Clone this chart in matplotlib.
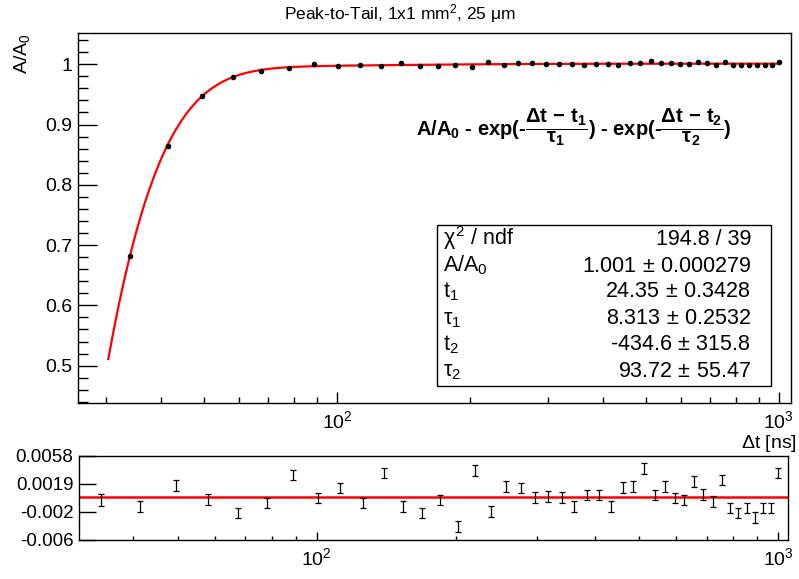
import matplotlib
matplotlib.use('Agg')
import matplotlib.pyplot as plt
import numpy as np
from matplotlib.ticker import (LogLocator, MultipleLocator, FuncFormatter,
                               LogFormatterMathtext, NullFormatter, FixedLocator)
from matplotlib.patches import Rectangle

plt.rcParams['font.family'] = ['Liberation Sans', 'DejaVu Sans']
plt.rcParams['mathtext.fontset'] = 'custom'
plt.rcParams['mathtext.rm'] = 'Liberation Sans'
plt.rcParams['mathtext.it'] = 'Liberation Sans'
plt.rcParams['mathtext.bf'] = 'Liberation Sans:bold'

# data
dt = [34.0, 41.4, 49.4, 58.1, 67.5, 77.8, 88.9, 100.6, 112.5, 126.0, 139.7,
      153.9, 169.4, 185.3, 202.6, 220.2, 238.2, 257.2, 276.7, 297.3, 317.7,
      339.7, 361.6, 385.7, 409.5, 433.5, 460.4, 485.3, 512.6, 540.8, 568.7,
      597.9, 626.6, 657.7, 689.0, 721.7, 754.7, 787.0, 820.5, 855.5, 891.6,
      929.5, 964.3, 1002.0]
ratio = [0.6823, 0.8649, 0.9479, 0.9782, 0.9885, 0.9944, 0.9999, 0.9975,
         0.9994, 0.9977, 1.0022, 0.9978, 0.9972, 0.9993, 0.9958, 1.0038,
         0.9982, 1.0019, 1.0017, 1.0006, 1.0008, 1.0007, 0.9995, 1.0012,
         1.0012, 0.9996, 1.0023, 1.0024, 1.0049, 1.0013, 1.0025, 1.0009,
         1.0006, 1.0032, 1.0014, 0.9994, 1.0034, 0.9995, 0.9988, 0.9995,
         0.9982, 0.9995, 0.9995, 1.0044]
resid = [-0.0004, -0.0013, 0.0017, -0.0003, -0.0022, -0.0008, 0.0031,
         -0.0001, 0.0013, -0.0008, 0.0034, -0.0013, -0.0022, -0.0004,
         -0.0041, 0.0037, -0.0020, 0.0015, 0.0013, 0.0000, 0.0001, 0.0000,
         -0.0013, 0.0003, 0.0003, -0.0013, 0.0014, 0.0015, 0.0040, 0.0003,
         0.0015, -0.0001, -0.0004, 0.0022, 0.0004, -0.0006, 0.0024, -0.0015,
         -0.0022, -0.0015, -0.0028, -0.0015, -0.0015, 0.0034]
resid_err = [0.00086, 0.00080, 0.00076, 0.00075, 0.00075, 0.00074, 0.00074,
             0.00074, 0.00074, 0.00074, 0.00074, 0.00074, 0.00074, 0.00074,
             0.00074, 0.00074, 0.00074, 0.00074, 0.00074, 0.00074, 0.00074,
             0.00074, 0.00074, 0.00074, 0.00074, 0.00074, 0.00074, 0.00074,
             0.00074, 0.00074, 0.00074, 0.00074, 0.00074, 0.00074, 0.00074,
             0.00074, 0.00074, 0.00074, 0.00074, 0.00074, 0.00074, 0.00074,
             0.00074, 0.00074]

# fit parameters as printed in the stats box
A0, t1, tau1, t2, tau2 = 1.001, 24.35, 8.313, -434.6, 93.72
fit_lo, fit_hi = 30.4, 1000.0

stat_names = [r'$\chi^{2}$ / ndf', r'A/A$_{0}$', r't$_{1}$', r'$\tau_{1}$',
              r't$_{2}$', r'$\tau_{2}$']
stat_vals = [r'194.8 / 39', r'1.001$\,\pm\,$0.000279', r'24.35$\,\pm\,$0.3428',
             r'8.313$\,\pm\,$0.2532', r'-434.6$\,\pm\,$315.8',
             r'93.72$\,\pm\,$55.47']

W, H = 799, 579


def fx(x):
    return x / W


def fy(y):
    return 1 - y / H


fig = plt.figure(figsize=(W / 100, H / 100), dpi=100)

# ---- top pad
ax = fig.add_axes([fx(78.3), fy(403), fx(791) - fx(78.3), fy(33.3) - fy(403)])
xf = np.logspace(np.log10(fit_lo), np.log10(fit_hi), 400)
yf = A0 - np.exp(-(xf - t1) / tau1) - np.exp(-(xf - t2) / tau2)
ax.plot(xf, yf, color='red', lw=1.6)
ax.plot(dt, ratio, 'o', color='black', ms=3.0, zorder=3)
ax.set_xscale('log')
ax.set_xlim(26.0, 1065)
ax.set_ylim(0.438, 1.0514)
ax.yaxis.set_major_locator(MultipleLocator(0.1))
ax.yaxis.set_minor_locator(MultipleLocator(0.02))
ax.yaxis.set_major_formatter(FuncFormatter(lambda v, p: '%g' % round(v, 3)))
ax.xaxis.set_major_locator(LogLocator(base=10))
ax.xaxis.set_minor_locator(LogLocator(base=10, subs=np.arange(2, 10)))
ax.xaxis.set_major_formatter(LogFormatterMathtext())
ax.xaxis.set_minor_formatter(NullFormatter())
ax.tick_params(axis='y', which='major', direction='in', length=14, width=1,
               labelsize=14, pad=4)
ax.tick_params(axis='y', which='minor', direction='in', length=7, width=1)
ax.tick_params(axis='x', which='major', direction='in', length=8, width=1,
               labelsize=14, pad=5)
ax.tick_params(axis='x', which='minor', direction='in', length=4, width=1)
for s in ax.spines.values():
    s.set_linewidth(1)

fig.text(0.5, fy(14), r'Peak-to-Tail, 1x1 mm$^{2}$, 25 $\mu$m', ha='center',
         va='center', fontsize=12.5)
fig.text(fx(22), fy(33), r'A/A$_{0}$', rotation=90, ha='center', va='top',
         fontsize=14)
fig.text(fx(797), fy(444), r'$\Delta$t [ns]', ha='right', va='center',
         fontsize=14)

# fit function label
fig.text(fx(574), fy(127),
         r'A/A$_{\mathbf{0}}$ - exp(-$\mathbf{\dfrac{\Delta t\,-\,t_{1}}{\tau_{1}}}$)'
         r' - exp(-$\mathbf{\dfrac{\Delta t\,-\,t_{2}}{\tau_{2}}}$)',
         ha='center', va='center', fontsize=14.5, fontweight='bold')

# stats box
fig.patches.append(Rectangle((fx(437), fy(386)), fx(771) - fx(437),
                             fy(225) - fy(386), transform=fig.transFigure,
                             fill=True, facecolor='white', edgecolor='black',
                             lw=1, zorder=5))
base = [245, 271.7, 297.3, 324, 350, 376.7]
for name, val, b in zip(stat_names, stat_vals, base):
    fig.text(fx(443), fy(b), name, ha='left', va='baseline', fontsize=15.5,
             zorder=6)
    fig.text(fx(751), fy(b), val, ha='right', va='baseline', fontsize=15.5,
             zorder=6)

# ---- bottom pad (residuals)
rx = fig.add_axes([fx(79), fy(540), fx(788) - fx(79), fy(455.7) - fy(540)])
rx.axhline(0, color='red', lw=1.8)
rx.errorbar(dt, resid, yerr=resid_err, fmt='none', ecolor='black',
            elinewidth=0.9, capsize=2.2, capthick=0.9, zorder=3)
rx.set_xscale('log')
rx.set_xlim(30.5, 1051)
rmin, rmax = -0.00595, 0.0058
rx.set_ylim(rmin, rmax)
rticks = [rmin, -0.00203, 0.00188, rmax]
rx.yaxis.set_major_locator(FixedLocator(rticks))
rx.set_yticklabels(['-0.006', '-0.002', '0.0019', '0.0058'])
rx.xaxis.set_major_locator(LogLocator(base=10))
rx.xaxis.set_minor_locator(LogLocator(base=10, subs=np.arange(2, 10)))
rx.xaxis.set_major_formatter(LogFormatterMathtext())
rx.xaxis.set_minor_formatter(NullFormatter())
rx.tick_params(axis='y', which='major', direction='in', length=12, width=1,
               labelsize=13.5, pad=4)
rx.tick_params(axis='x', which='major', direction='in', length=6, width=1,
               labelsize=14, pad=5)
rx.tick_params(axis='x', which='minor', direction='in', length=3, width=1)
for s in rx.spines.values():
    s.set_linewidth(1)

fig.savefig('out.png', dpi=100)
